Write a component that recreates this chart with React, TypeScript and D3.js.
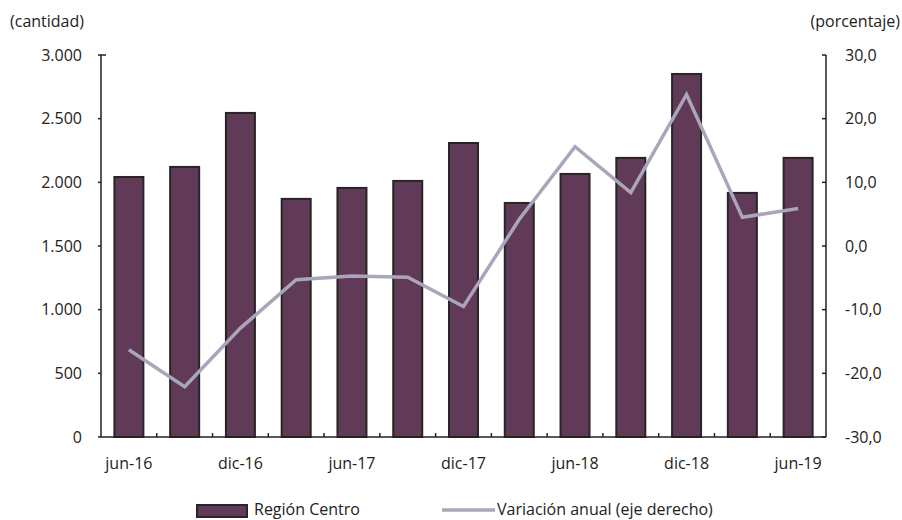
import React from "react";
import * as d3 from "d3";

const categories = ["jun-16","sep-16","dic-16","mar-17","jun-17","sep-17","dic-17","mar-18","jun-18","sep-18","dic-18","mar-19","jun-19"];
const tickLabels = ["jun-16","dic-16","jun-17","dic-17","jun-18","dic-18","jun-19"];
const barValues = [2042, 2121, 2545, 1870, 1956, 2011, 2309, 1838, 2066, 2192, 2851, 1917, 2192];
const lineValues = [-16.3, -22.1, -12.9, -5.3, -4.7, -4.9, -9.5, 4.2, 15.6, 8.4, 23.8, 4.5, 5.9];
const leftTicks = [0, 500, 1000, 1500, 2000, 2500, 3000];
const rightTicks = [-30, -20, -10, 0, 10, 20, 30];

const W = 902, H = 520;
const x0 = 101, x1 = 826, yTop = 55, yBot = 437;
const FONT = "'Open Sans', Lato, sans-serif";
const FS = 16;

export default function App() {
  const x = d3.scaleBand<string>().domain(categories).range([x0, x1]).paddingInner(0.48).paddingOuter(0.24);
  const band = d3.scaleBand<string>().domain(categories).range([x0, x1]);
  const yL = d3.scaleLinear().domain([0, 3000]).range([yBot, yTop]);
  const yR = d3.scaleLinear().domain([-30, 30]).range([yBot, yTop]);
  const fmtL = (v: number) => d3.format(",")(v).replace(/,/g, ".");
  const fmtR = (v: number) => d3.format(".1f")(v).replace(".", ",").replace("\u2212", "-");
  const line = d3.line<number>().x((_, i) => band(categories[i])! + band.bandwidth() / 2).y(d => yR(d));
  return (
    <svg width={W} height={H} style={{ position: "absolute", left: 0, top: 0 }} fontFamily={FONT}>
      <rect width={W} height={H} fill="#fff" />
      <text x={10} y={27} fontSize={FS} fill="#222">(cantidad)</text>
      <text x={900} y={27} fontSize={FS} fill="#222" textAnchor="end">(porcentaje)</text>
      {barValues.map((v, i) => (
        <rect key={i} x={x(categories[i])} y={yL(v)} width={x.bandwidth()} height={yBot - yL(v)}
          fill="#603a56" stroke="#262626" strokeWidth={2} />
      ))}
      <path d={line(lineValues)!} fill="none" stroke="#a9a5ba" strokeWidth={3.5} strokeLinejoin="miter" />
      {/* left axis */}
      <line x1={x0} x2={x0} y1={yTop} y2={yBot} stroke="#222" strokeWidth={1.5} />
      <line x1={x0} x2={x0 + 5} y1={yTop} y2={yTop} stroke="#222" strokeWidth={1.5} />
      {leftTicks.map(t => (
        <g key={t}>
          <line x1={x0 - 3} x2={x0} y1={yL(t)} y2={yL(t)} stroke="#222" strokeWidth={1.5} />
          <text x={82} y={yL(t)} dy="0.35em" fontSize={FS} textAnchor="end" fill="#222">{fmtL(t)}</text>
        </g>
      ))}
      {/* right axis */}
      <line x1={x1} x2={x1} y1={yTop} y2={yBot} stroke="#222" strokeWidth={1.5} />
      {rightTicks.map(t => (
        <g key={t}>
          <line x1={x1 - 4} x2={x1} y1={yR(t)} y2={yR(t)} stroke="#222" strokeWidth={1.5} />
          <text x={845} y={yR(t)} dy="0.35em" fontSize={FS} fill="#222">{fmtR(t)}</text>
        </g>
      ))}
      {/* bottom axis */}
      <line x1={x0} x2={x1} y1={yBot} y2={yBot} stroke="#222" strokeWidth={1.5} />
      {categories.slice(1).map(c => (
        <line key={c} x1={band(c)} x2={band(c)} y1={yBot} y2={yBot - 4} stroke="#222" strokeWidth={1.5} />
      ))}
      {categories.map(c => tickLabels.includes(c) ? (
        <text key={c} x={band(c)! + band.bandwidth() / 2} y={469} fontSize={FS} textAnchor="middle" fill="#222">{c}</text>
      ) : null)}
      {/* legend */}
      <rect x={197} y={505} width={50} height={12} fill="#603a56" stroke="#262626" strokeWidth={2} />
      <text x={254} y={515} fontSize={FS} fill="#222">Región Centro</text>
      <line x1={442} x2={495} y1={510} y2={510} stroke="#a9a5ba" strokeWidth={3.5} />
      <text x={497} y={515} fontSize={FS} fill="#222">Variación anual (eje derecho)</text>
    </svg>
  );
}
